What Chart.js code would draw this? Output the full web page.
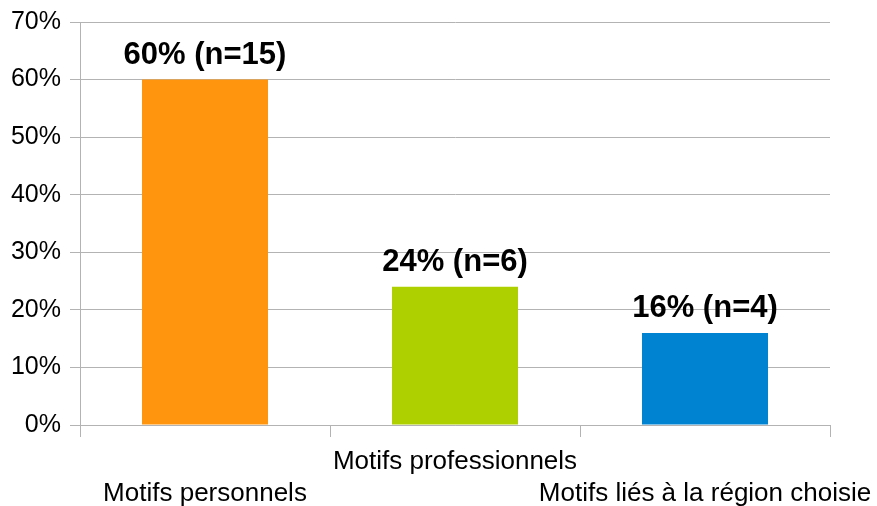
<!DOCTYPE html>
<html>
<head>
<meta charset="utf-8">
<script src="https://cdn.jsdelivr.net/npm/chart.js@4/dist/chart.umd.min.js"></script>
<style>
    body { margin: 0; background: #fff; }
    canvas { display: block; }
</style>
</head>
<body>
<canvas id="chart" width="877" height="506"></canvas>
<script>
const CATEGORIES = ['Motifs personnels', 'Motifs professionnels', 'Motifs liés à la région choisie'];
const PERCENTS = [60, 24, 16];
const COUNTS = [15, 6, 4];
const BAR_COLORS = ['#ff950e', '#aecf00', '#0084d1'];
const Y_MAX = 70;
const Y_STEP = 10;

const GRID_COLOR = '#b3b3b3';
const FONT = '"Liberation Sans", Arial, sans-serif';

// etiquettes au-dessus des barres
const barLabels = {
    id: 'barLabels',
    afterDatasetsDraw(chart) {
        const ctx = chart.ctx;
        const meta = chart.getDatasetMeta(0);
        ctx.save();
        ctx.font = 'bold 31px ' + FONT;
        ctx.fillStyle = '#000';
        ctx.textAlign = 'center';
        ctx.textBaseline = 'alphabetic';
        meta.data.forEach((bar, i) => {
            ctx.fillText(`${PERCENTS[i]}% (n=${COUNTS[i]})`, bar.x, bar.y - 16);
        });
        ctx.restore();
    }
};

new Chart(document.getElementById('chart'), {
    type: 'bar',
    data: {
        labels: CATEGORIES,
        datasets: [{
            data: PERCENTS,
            backgroundColor: BAR_COLORS,
            borderWidth: 0,
            categoryPercentage: 1,
            barPercentage: 0.504
        }]
    },
    options: {
        responsive: false,
        animation: false,
        layout: { padding: { top: 22, right: 47, left: 0, bottom: 0 } },
        plugins: { legend: { display: false }, tooltip: { enabled: false } },
        scales: {
            x: {
                offset: true,
                grid: { offset: true, drawOnChartArea: false, color: GRID_COLOR, tickLength: 12 },
                border: { color: GRID_COLOR },
                ticks: {
                    autoSkip: false,
                    maxRotation: 0,
                    minRotation: 0,
                    padding: 9,
                    color: '#000',
                    font: { family: FONT, size: 26, lineHeight: 1.22 },
                    callback: (v, i) => (i % 2 ? CATEGORIES[i] : ['', CATEGORIES[i]])
                },
                afterFit: (scale) => {
                    scale.height = 81;
                    scale.paddingLeft = 0;
                    scale.paddingRight = 0;
                }
            },
            y: {
                min: 0,
                max: Y_MAX,
                grid: { color: GRID_COLOR, tickLength: 10 },
                border: { color: GRID_COLOR },
                ticks: {
                    stepSize: Y_STEP,
                    padding: 9,
                    color: '#000',
                    font: { family: FONT, size: 25 },
                    callback: (v) => v + '%'
                },
                afterFit: (scale) => {
                    scale.width = 80;
                    scale.paddingTop = 0;
                    scale.paddingBottom = 0;
                }
            }
        }
    },
    plugins: [barLabels]
});
</script>
</body>
</html>
